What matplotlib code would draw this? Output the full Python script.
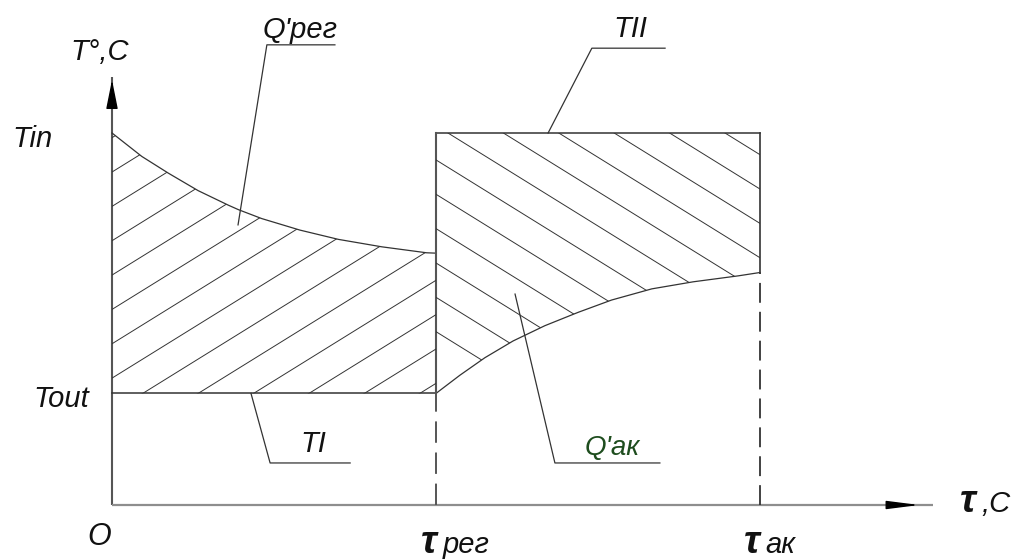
import numpy as np
import matplotlib
matplotlib.use("Agg")
import matplotlib.pyplot as plt
from matplotlib.patches import Polygon

# levels and times
T_in = 100.0
T_out = 30.0
t_reg = 1.0
t_ak = 2.0

# cooling curve of the regenerator (0 .. t_reg)
tau_reg = [0.0, 0.092, 0.174, 0.266, 0.359, 0.390, 0.462, 0.580, 0.699, 0.833, 0.971, 1.0]
T_reg = [100.0, 93.7, 89.2, 84.5, 80.6, 79.4, 77.0, 73.9, 71.4, 69.4, 67.8, 67.7]

# heating curve of the accumulator (t_reg .. t_ak)
tau_ak = [1.0, 1.074, 1.151, 1.238, 1.336, 1.439, 1.542, 1.666, 1.794, 1.933, 2.0]
T_ak = [30.0, 34.9, 39.6, 44.1, 48.2, 51.8, 55.1, 58.1, 60.0, 61.6, 62.5]

# pixel geometry of the original sheet
W, H = 1017, 560
x0, y0 = 112, 505          # origin in pixels
sx, sy = 324.0, 3.72       # pixels per unit

plt.rcParams['font.family'] = ['Liberation Sans Narrow', 'Liberation Sans', 'DejaVu Sans']

fig = plt.figure(figsize=(W / 100, H / 100), dpi=100)
ax = fig.add_axes([0, 0, 1, 1])
ax.set_xlim(-x0 / sx, (W - x0) / sx)
ax.set_ylim((y0 - H) / sy, y0 / sy)
ax.axis('off')

dark = '#333333'
axis_dark = '#555555'
axis_light = '#8e8e8e'

# axes with arrows
y_top = (y0 - 77) / sy
x_end = (933 - x0) / sx
ax.plot([0, 0], [0, y_top], color=axis_dark, lw=1.5, solid_capstyle='butt')
ax.plot([0, x_end], [0, 0], color=axis_light, lw=1.6, solid_capstyle='butt')
ax.annotate('', xy=(0, y_top), xytext=(0, y_top - 25 / sy),
            arrowprops=dict(arrowstyle='-|>,head_length=1.0,head_width=0.2',
                            mutation_scale=18, color='black', lw=1))
ax.annotate('', xy=((922 - x0) / sx, 0), xytext=((895 - x0) / sx, 0),
            arrowprops=dict(arrowstyle='-|>,head_length=1.1,head_width=0.14',
                            mutation_scale=18, color='black', lw=1))

# curves and contours
ax.plot(tau_reg, T_reg, color=dark, lw=0.9)
ax.plot(tau_ak, T_ak, color=dark, lw=0.9)
ax.plot([0, t_reg], [T_out, T_out], color=dark, lw=1.1)
ax.plot([t_reg, t_ak], [T_in, T_in], color=dark, lw=1.1)
ax.plot([t_reg, t_reg], [T_out, T_in], color=axis_dark, lw=1.5)
ax.plot([t_ak, t_ak], [T_ak[-1], T_in], color=dark, lw=1.2)
ax.plot([t_reg, t_reg], [0, T_out], color=axis_dark, lw=1.4, ls=(0, (11, 5)))
ax.plot([t_ak, t_ak], [0, T_ak[-1]], color=dark, lw=1.3, ls=(0, (11, 5)))

# hatching, clipped to both areas
left_poly = [(0, T_out)] + list(zip(tau_reg, T_reg)) + [(tau_reg[-1], T_out)]
right_poly = [(t_reg, T_in), (t_ak, T_in)] + list(zip(tau_ak, T_ak))[::-1]
clip_l = Polygon(left_poly, closed=True, transform=ax.transData)
clip_r = Polygon(right_poly, closed=True, transform=ax.transData)

slope = 0.62 * sx / sy
step = 0.171
span = np.array([-1.5, 3.5])
for c in np.arange(0.095 - 8 * step, 1.2, step):
    ln, = ax.plot(span, T_out + slope * (span - c), color=dark, lw=0.7)
    ln.set_clip_path(clip_l)
for d in np.arange(1.037 - 6 * step, 2.2, step):
    ln, = ax.plot(span, T_in - slope * (span - d), color=dark, lw=0.7)
    ln.set_clip_path(clip_r)

# leader lines
leaders = [
    ([0.389, 0.478, 0.688], [75.3, 123.7, 123.7]),
    ([1.346, 1.481, 1.707], [T_in, 122.8, 122.8]),
    ([0.429, 0.488, 0.735], [T_out, 11.3, 11.3]),
    ([1.244, 1.367, 1.691], [56.7, 11.3, 11.3]),
]
for lx, ly in leaders:
    ax.plot(lx, ly, color=dark, lw=0.9)

# labels
txt = dict(style='italic', color='#111111', va='baseline', ha='left')
ax.text(-0.130, 119.6, 'T°,C', fontsize=21, **txt)
ax.text(-0.306, 96.2, 'Tin', fontsize=21, **txt)
ax.text(-0.244, 26.3, 'Tout', fontsize=21, **txt)
ax.text(-0.077, -10.8, 'O', fontsize=22, **txt)
ax.text(0.466, 125.5, "Q'рег", fontsize=21, **txt)
ax.text(1.546, 125.8, 'TII', fontsize=21, **txt)
ax.text(0.580, 14.2, 'TI', fontsize=21, **txt)
ax.text(1.460, 13.4, "Q'ак", fontsize=20, style='italic', color='#1e4d1e',
        va='baseline', ha='left')

ax.text(0.955, -12.9, 'τ', fontsize=28, weight='bold', **txt)
ax.text(1.022, -12.9, 'рег', fontsize=21, **txt)
ax.text(1.950, -12.9, 'τ', fontsize=28, weight='bold', **txt)
ax.text(2.017, -12.9, 'ак', fontsize=21, **txt)
ax.text(2.617, -1.9, 'τ', fontsize=28, weight='bold', **txt)
ax.text(2.684, -1.9, ',C', fontsize=21, **txt)

fig.savefig('out.png', dpi=100)
